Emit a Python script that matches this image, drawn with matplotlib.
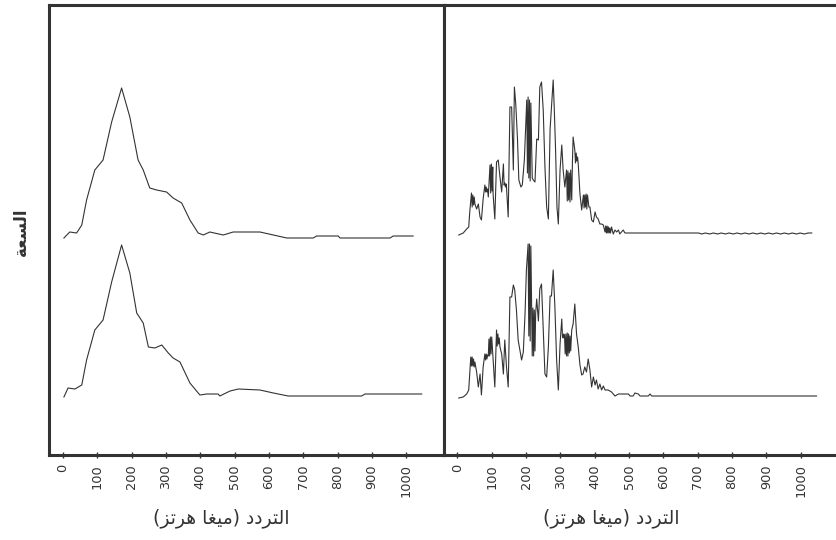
import matplotlib.pyplot as plt

# ---- data (frequency in MHz, amplitude in arbitrary units above each trace baseline) ----
ticks = [0, 100, 200, 300, 400, 500, 600, 700, 800, 900, 1000]

xlabel_ar = "التردد (ميغا هرتز)"
ylabel_ar = "السعة"

# left panel, upper trace
lt_f = [3, 20, 40, 55, 69, 93, 117, 142, 171, 195, 219, 234, 253, 273, 302, 321, 346, 370,
        394, 409, 428, 467, 496, 574, 613, 652, 729, 739, 802, 807, 953, 962, 1020]
lt_a = [0, 6, 5, 13, 38, 68, 78, 116, 150, 121, 78, 68, 50, 48, 46, 40, 35, 18,
        5, 3, 6, 3, 6, 6, 3, 0, 0, 2, 2, 0, 0, 2, 2]

# left panel, lower trace
lb_f = [3, 15, 35, 55, 69, 93, 117, 142, 171, 195, 215, 234, 249, 268, 288, 307, 321, 341,
        370, 399, 419, 452, 457, 487, 511, 574, 613, 656, 870, 880, 1045]
lb_a = [-1, 8, 7, 11, 36, 66, 76, 114, 151, 123, 83, 73, 49, 48, 51, 43, 38, 34,
        13, 1, 2, 2, 0, 5, 7, 6, 3, 0, 0, 2, 2]

# right panel, upper trace
rt_f = [4, 17, 27, 33, 36, 41, 43, 45, 47, 49, 51, 56, 61, 66, 70, 75, 80, 82, 84, 86, 88, 90,
        95, 97, 99, 101, 103, 104, 109, 114, 119, 124, 129, 134, 136, 138, 140, 142, 143, 148,
        153, 158, 163, 166, 170, 175, 179, 185, 189, 195, 199, 202, 204, 206, 208, 210, 212, 214,
        216, 218, 221, 226, 231, 236, 240, 245, 250, 255, 260, 265, 270, 274, 279, 282, 286, 290,
        294, 299, 304, 308, 313, 318, 320, 322, 324, 326, 328, 330, 333, 335, 337, 342, 344, 346,
        348, 350, 352, 357, 362, 367, 369, 371, 373, 375, 377, 379, 383, 386, 391, 396, 401, 405,
        410, 415, 420, 425, 430, 432, 434, 436, 438, 440, 442, 444, 446, 449, 454, 459, 464, 469,
        473, 483, 488, 702, 712, 722, 735, 745, 758, 768, 781, 791, 804, 814, 827, 837, 850, 860,
        873, 883, 896, 906, 919, 929, 942, 952, 965, 975, 988, 998, 1011, 1021, 1032]
rt_a = [-2, 0, 4, 6, 21, 40, 26, 38, 28, 36, 29, 24, 29, 16, 13, 34, 48, 41, 46, 41, 44, 36,
        68, 40, 69, 42, 66, 39, 14, 71, 73, 56, 41, 69, 48, 50, 46, 49, 46, 16,
        126, 126, 63, 146, 129, 94, 53, 46, 48, 73, 106, 133, 60, 136, 55, 133, 52, 130,
        94, 55, 53, 51, 94, 93, 146, 151, 123, 66, 26, 14, 104, 126, 153, 126, 83, 26,
        9, 63, 88, 63, 46, 63, 32, 62, 33, 60, 31, 63, 33, 70, 96, 83, 70, 80,
        72, 76, 69, 39, 23, 38, 25, 38, 26, 39, 24, 38, 26, 26, 13, 11, 21, 16,
        14, 9, 9, 8, 1, 7, 0, 7, 0, 6, 0, 5, 0, 6, -1, 3, 1, 3,
        -1, 3, 0, 0, -1, 0, -1, 0, -1, 0, -1, 0, -1, 0, -1, 0, -1, 0,
        -1, 0, -1, 0, -1, 0, -1, 0, -1, 0, -1, 0, -1, 0, 0]

# right panel, lower trace
rb_f = [4, 17, 27, 33, 36, 39, 41, 43, 45, 47, 49, 51, 56, 61, 66, 70, 75, 80, 82, 84, 86, 88,
        90, 92, 94, 96, 98, 100, 104, 109, 114, 116, 118, 120, 122, 124, 129, 134, 138, 143,
        148, 153, 158, 163, 167, 172, 177, 182, 187, 192, 197, 201, 206, 208, 210, 212, 214, 216,
        218, 220, 222, 224, 226, 228, 231, 236, 240, 245, 250, 255, 260, 265, 270, 274, 279, 284,
        289, 294, 299, 304, 306, 308, 310, 312, 314, 316, 318, 320, 322, 324, 326, 328, 330, 333,
        337, 342, 347, 352, 357, 362, 366, 371, 376, 381, 386, 391, 396, 401, 405, 410, 415, 420,
        425, 430, 439, 449, 459, 469, 498, 503, 512, 517, 527, 532, 556, 561, 566, 1046]
rb_a = [-2, -1, 2, 6, 22, 39, 30, 39, 30, 37, 29, 34, 24, 9, 22, 1, 29, 42, 36, 42, 37, 41,
        40, 57, 40, 59, 42, 59, 36, 9, 66, 50, 62, 52, 58, 49, 42, 22, 56, 29,
        9, 99, 99, 111, 106, 86, 56, 46, 36, 44, 82, 126, 152, 60, 152, 55, 150, 92,
        40, 88, 40, 86, 45, 83, 97, 75, 107, 112, 66, 22, 19, 49, 100, 100, 126, 89,
        36, 6, 52, 77, 60, 58, 62, 60, 42, 62, 40, 63, 40, 62, 43, 60, 45, 66,
        72, 92, 62, 49, 31, 21, 22, 29, 24, 37, 26, 9, 19, 11, 16, 7, 12, 6,
        10, 6, 6, 4, 0, 2, 2, 0, 0, 3, 2, 0, 0, 2, 0, 0]


def shape_ar(text):
    # minimal Arabic joining + right-to-left reordering (matplotlib does no shaping)
    forms = {
        'ا': ('\uFE8D', '\uFE8E', None, None),
        'ل': ('\uFEDD', '\uFEDE', '\uFEDF', '\uFEE0'),
        'ت': ('\uFE95', '\uFE96', '\uFE97', '\uFE98'),
        'ر': ('\uFEAD', '\uFEAE', None, None),
        'د': ('\uFEA9', '\uFEAA', None, None),
        'م': ('\uFEE1', '\uFEE2', '\uFEE3', '\uFEE4'),
        'ي': ('\uFEF1', '\uFEF2', '\uFEF3', '\uFEF4'),
        'غ': ('\uFECD', '\uFECE', '\uFECF', '\uFED0'),
        'ه': ('\uFEE9', '\uFEEA', '\uFEEB', '\uFEEC'),
        'ز': ('\uFEAF', '\uFEB0', None, None),
        'س': ('\uFEB1', '\uFEB2', '\uFEB3', '\uFEB4'),
        'ع': ('\uFEC9', '\uFECA', '\uFECB', '\uFECC'),
        'ة': ('\uFE93', '\uFE94', None, None),
    }
    out = []
    for i, ch in enumerate(text):
        if ch not in forms:
            out.append(ch)
            continue
        prev = text[i - 1] if i > 0 else ''
        nxt = text[i + 1] if i + 1 < len(text) else ''
        p = prev in forms and forms[prev][2] is not None
        n = nxt in forms and forms[ch][2] is not None
        iso, fin, ini, med = forms[ch]
        if p and n:
            out.append(med)
        elif p:
            out.append(fin)
        elif n:
            out.append(ini)
        else:
            out.append(iso)
    s = ''.join(reversed(out))
    return s.translate(str.maketrans('()', ')('))


ink = '#333333'
fig = plt.figure(figsize=(8.37, 5.4), dpi=100)

W, H = 837, 540
bot = (540 - 455) / H
hgt = 450 / H
wid = 394.5 / W
ax1 = fig.add_axes([49.5 / W, bot, wid, hgt])
ax2 = fig.add_axes([444 / W, bot, wid, hgt])

panels = [
    (ax1, (lt_f, lt_a, 217), (lb_f, lb_a, 59), 0.436),
    (ax2, (rt_f, rt_a, 222), (rb_f, rb_a, 59), 0.423),
]
for ax, top, low, lab_x in panels:
    for f, a, off in (top, low):
        ax.plot(f, [v + off for v in a], color=ink, lw=0.8)
    ax.set_xlim(-39, 1110)
    ax.set_ylim(0, 450)
    ax.set_yticks([])
    ax.set_xticks(ticks)
    ax.set_xticklabels([str(t) for t in ticks], rotation=90, fontsize=9.3, color=ink)
    ax.tick_params(axis='x', direction='inout', length=5, width=1, color=ink, pad=4)
    for s in ax.spines.values():
        s.set_linewidth(2.2)
        s.set_color(ink)
    ax.text(lab_x, -0.14, shape_ar(xlabel_ar), transform=ax.transAxes,
            ha='center', va='center', fontsize=13.5, color=ink, family='DejaVu Sans')

ax2.spines['right'].set_visible(False)

fig.text(21 / W, (540 - 232) / H, shape_ar(ylabel_ar), rotation=90, ha='center', va='center',
         fontsize=12, fontweight='bold', color=ink, family='DejaVu Sans')

fig.savefig('out.png', dpi=100, facecolor='white')
